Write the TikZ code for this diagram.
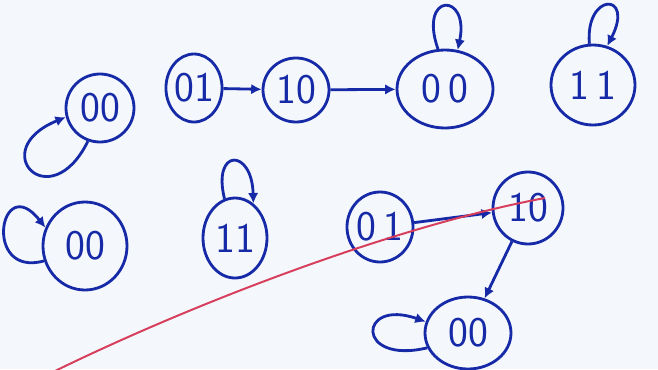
\documentclass[tikz,border=0pt]{standalone}
\usepackage{tikz}
\usetikzlibrary{shapes,arrows,positioning,calc,arrows.meta}
\definecolor{ink}{RGB}{22,42,168}
\definecolor{redpen}{RGB}{214,62,92}
\definecolor{paper}{RGB}{244,247,252}
\tikzset{
    state/.style={draw=ink, ellipse, line width=2pt, inner sep=0pt, text=ink,
        font=\sffamily\fontsize{30}{34}\selectfont},
    sz/.style 2 args={minimum width=#1*0.025cm, minimum height=#2*0.025cm},
    arr/.style={draw=ink, line width=2pt, -{Latex[length=2.6mm,width=2.6mm]}}
}

\begin{document}
\begin{tikzpicture}[x=0.025cm, y=-0.025cm]
    \fill[paper] (0,0) rectangle (658,369);
    \useasboundingbox (0,0) rectangle (658,369);

    % top row
    \node[state, sz={68}{68}] (s00a) at (100,108) {00};
    \node[state, sz={52}{68}] (s01a) at (194,88) {01};
    \node[state, sz={66}{64}] (s10a) at (296,90) {10};
    \node[state, sz={96}{78}] (s00b) at (445,89) {0\,0};
    \node[state, sz={84}{80}] (s11a) at (593,85) {1\,1};

    \draw[arr] (s01a) -- (s10a);
    \draw[arr] (s10a) -- (s00b);
    % self loops
    \draw[arr] (s00a.250) .. controls (50,218) and (-15,150) .. (s00a.195);
    \draw[arr] (s00b.100) .. controls (418,-8) and (470,-8) .. (s00b.72);
    \draw[arr] (s11a.95) .. controls (585,-8) and (635,-8) .. (s11a.70);

    % bottom row
    \node[state, sz={84}{88}] (s00c) at (85,246) {00};
    \node[state, sz={64}{80}] (s11b) at (235,238) {11};
    \node[state, sz={66}{70}] (s01b) at (380,227) {0\,1};
    \node[state, sz={70}{72}] (s10b) at (528,208) {10};
    \node[state, sz={86}{72}] (s00d) at (468,333) {00};

    \draw[arr] (s01b) -- (s10b);
    \draw[arr] (s10b) -- (s00d);
    % self loops
    \draw[arr] (s00c.200) .. controls (-18,278) and (0,170) .. (s00c.155);
    \draw[arr] (s11b.105) .. controls (212,148) and (252,148) .. (s11b.62);
    \draw[arr] (s00d.200) .. controls (355,365) and (358,298) .. (s00d.165);

    % red stroke
    \draw[redpen, line width=1.4pt] (53,372) .. controls (200,300) and (400,225) .. (545,198);
\end{tikzpicture}
\end{document}
